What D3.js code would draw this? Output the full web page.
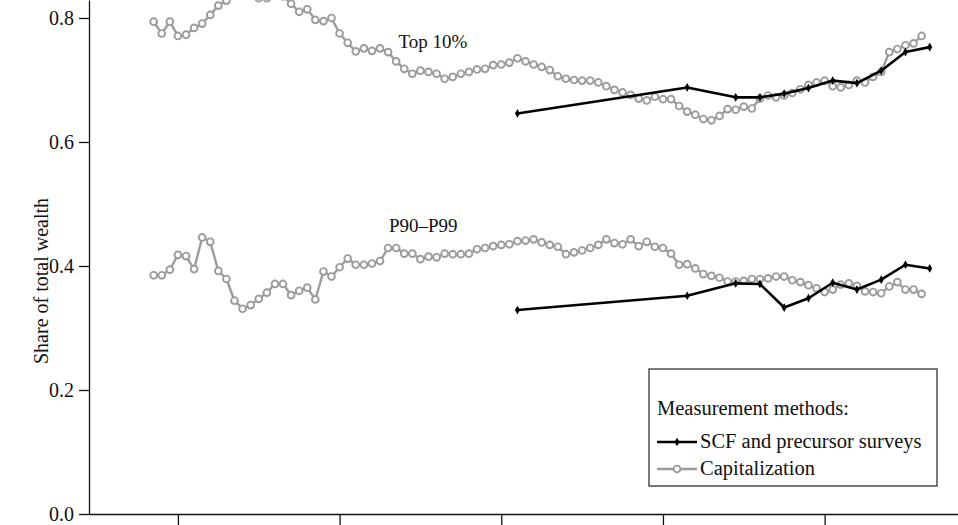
<!DOCTYPE html>
<html>
<head>
<meta charset="utf-8">
<script src="https://cdn.jsdelivr.net/npm/d3@7"></script>
<style>
  html, body { margin: 0; padding: 0; background: #fff; }
  svg { display: block; }
  text { font-family: "Liberation Serif", "Times New Roman", serif; fill: #111; }
</style>
</head>
<body>
<svg id="chart" width="958" height="525"></svg>
<script>
// Years of the annual capitalization estimates
const capYears = d3.range(1917, 2013);

// Top 10% wealth share, capitalization method (1917–2012)
const capTop10 = [
  0.794, 0.775, 0.794, 0.771, 0.773, 0.784, 0.791, 0.805, 0.820, 0.828,
  0.836, 0.842, 0.846, 0.832, 0.832, 0.840, 0.835, 0.823, 0.810, 0.814,
  0.797, 0.795, 0.800, 0.775, 0.760, 0.746, 0.751, 0.747, 0.751, 0.745,
  0.730, 0.718, 0.710, 0.715, 0.713, 0.710, 0.702, 0.705, 0.710, 0.713,
  0.717, 0.718, 0.724, 0.725, 0.728, 0.735, 0.730, 0.725, 0.721, 0.716,
  0.706, 0.702, 0.700, 0.699, 0.699, 0.696, 0.690, 0.684, 0.680, 0.676,
  0.670, 0.667, 0.673, 0.669, 0.669, 0.658, 0.649, 0.644, 0.637, 0.635,
  0.642, 0.653, 0.652, 0.657, 0.654, 0.670, 0.675, 0.672, 0.675, 0.679,
  0.685, 0.692, 0.696, 0.699, 0.690, 0.688, 0.692, 0.699, 0.696, 0.705,
  0.713, 0.745, 0.750, 0.756, 0.759, 0.771
];

// P90–P99 wealth share, capitalization method (1917–2012)
const capP90P99 = [
  0.385, 0.385, 0.394, 0.418, 0.416, 0.395, 0.446, 0.439, 0.392, 0.379,
  0.344, 0.331, 0.337, 0.347, 0.357, 0.371, 0.371, 0.353, 0.360, 0.365,
  0.346, 0.391, 0.383, 0.398, 0.412, 0.402, 0.402, 0.404, 0.408, 0.429,
  0.429, 0.420, 0.420, 0.411, 0.415, 0.414, 0.420, 0.419, 0.419, 0.420,
  0.427, 0.429, 0.432, 0.434, 0.435, 0.440, 0.441, 0.443, 0.438, 0.434,
  0.431, 0.419, 0.422, 0.425, 0.429, 0.434, 0.443, 0.437, 0.435, 0.443,
  0.432, 0.439, 0.431, 0.429, 0.420, 0.402, 0.403, 0.396, 0.387, 0.384,
  0.381, 0.375, 0.375, 0.376, 0.379, 0.379, 0.380, 0.383, 0.383, 0.377,
  0.374, 0.369, 0.364, 0.358, 0.362, 0.370, 0.372, 0.368, 0.359, 0.358,
  0.356, 0.367, 0.374, 0.362, 0.362, 0.355
];

// Survey years (1962 SFCC, 1983 onward SCF)
const scfYears = [1962, 1983, 1989, 1992, 1995, 1998, 2001, 2004, 2007, 2010, 2013];
const scfTop10 = [0.646, 0.688, 0.672, 0.672, 0.678, 0.687, 0.699, 0.695, 0.715, 0.745, 0.753];
const scfP90P99 = [0.329, 0.352, 0.372, 0.371, 0.333, 0.348, 0.373, 0.362, 0.378, 0.402, 0.396];

const yTicks = [0.0, 0.2, 0.4, 0.6, 0.8];
const xTicks = [1920, 1940, 1960, 1980, 2000];

const seriesLabels = [
  { text: "Top 10%", year: 1947.3, value: 0.751 },
  { text: "P90\u2013P99", year: 1946.1, value: 0.455 }
];
const legendTitle = "Measurement methods:";
const legendItems = ["SCF and precursor surveys", "Capitalization"];
const yTitle = "Share of total wealth";

const GREY = "#9c9c9c";
const BLACK = "#000000";

const svg = d3.select("#chart");
const W = 958, H = 525;
const left = 89, bottom = 514;

const x = d3.scaleLinear().domain([1909, 2016.5]).range([left, W]);
const y = d3.scaleLinear().domain([0, 0.829]).range([bottom, 0]);

// Axes
const yAxis = d3.axisLeft(y)
  .tickValues(yTicks)
  .tickFormat(d3.format(".1f"))
  .tickSize(10)
  .tickSizeOuter(0)
  .tickPadding(5);
const gy = svg.append("g").attr("transform", `translate(${left},0)`).call(yAxis);
gy.selectAll("text").style("font-size", "20px").style("font-family", "Liberation Serif, serif").attr("fill", "#111");
gy.selectAll("line, path").attr("stroke", "#111").attr("stroke-width", 1.3);

const xAxis = d3.axisBottom(x)
  .tickValues(xTicks)
  .tickFormat(() => "")
  .tickSize(12)
  .tickSizeOuter(0);
const gx = svg.append("g").attr("transform", `translate(0,${bottom})`).call(xAxis);
gx.selectAll("line, path").attr("stroke", "#111").attr("stroke-width", 1.3);

// Y title
svg.append("text")
  .attr("transform", `translate(48,${(y(0.8) + bottom) / 2 + 15}) rotate(-90)`)
  .attr("text-anchor", "middle")
  .style("font-size", "20px")
  .text(yTitle);

const line = d3.line().x(d => x(d[0])).y(d => y(d[1]));

function drawCap(values) {
  const pts = capYears.map((yr, i) => [yr, values[i]]);
  svg.append("path").datum(pts)
    .attr("d", line).attr("fill", "none")
    .attr("stroke", GREY).attr("stroke-width", 2.4).attr("stroke-linejoin", "round");
  svg.append("g").selectAll("circle").data(pts).join("circle")
    .attr("cx", d => x(d[0])).attr("cy", d => y(d[1])).attr("r", 3.4)
    .attr("fill", "#fff").attr("stroke", GREY).attr("stroke-width", 1.9);
}

function drawScf(values) {
  const pts = scfYears.map((yr, i) => [yr, values[i]]);
  svg.append("path").datum(pts)
    .attr("d", line).attr("fill", "none")
    .attr("stroke", BLACK).attr("stroke-width", 2.6).attr("stroke-linejoin", "round");
  svg.append("g").selectAll("path").data(pts).join("path")
    .attr("transform", d => `translate(${x(d[0])},${y(d[1])})`)
    .attr("d", d3.symbol(d3.symbolDiamond, 22))
    .attr("fill", BLACK);
}

drawCap(capTop10);
drawCap(capP90P99);
drawScf(scfTop10);
drawScf(scfP90P99);

// Series labels
svg.append("g").selectAll("text").data(seriesLabels).join("text")
  .attr("x", d => x(d.year)).attr("y", d => y(d.value))
  .style("font-size", "19px")
  .text(d => d.text);

// Legend
const lg = svg.append("g").attr("transform", "translate(649,369)");
lg.append("rect").attr("x", 0).attr("y", 0).attr("width", 288).attr("height", 117)
  .attr("fill", "#fff").attr("stroke", "#333").attr("stroke-width", 1.3);
lg.append("text").attr("x", 8).attr("y", 46).style("font-size", "20.5px").text(legendTitle);
const rowY = [73, 100];
legendItems.forEach((label, i) => {
  const g = lg.append("g").attr("transform", `translate(8,${rowY[i]})`);
  if (i === 0) {
    g.append("line").attr("x1", 0).attr("x2", 40).attr("y1", 0).attr("y2", 0)
      .attr("stroke", BLACK).attr("stroke-width", 2.6);
    g.append("path").attr("transform", "translate(20,0)")
      .attr("d", d3.symbol(d3.symbolDiamond, 22)).attr("fill", BLACK);
  } else {
    g.append("line").attr("x1", 0).attr("x2", 40).attr("y1", 0).attr("y2", 0)
      .attr("stroke", GREY).attr("stroke-width", 2.4);
    g.append("circle").attr("cx", 20).attr("cy", 0).attr("r", 3.4)
      .attr("fill", "#fff").attr("stroke", GREY).attr("stroke-width", 1.9);
  }
  g.append("text").attr("x", 43).attr("y", 6).style("font-size", "20.5px").text(label);
});
</script>
</body>
</html>
